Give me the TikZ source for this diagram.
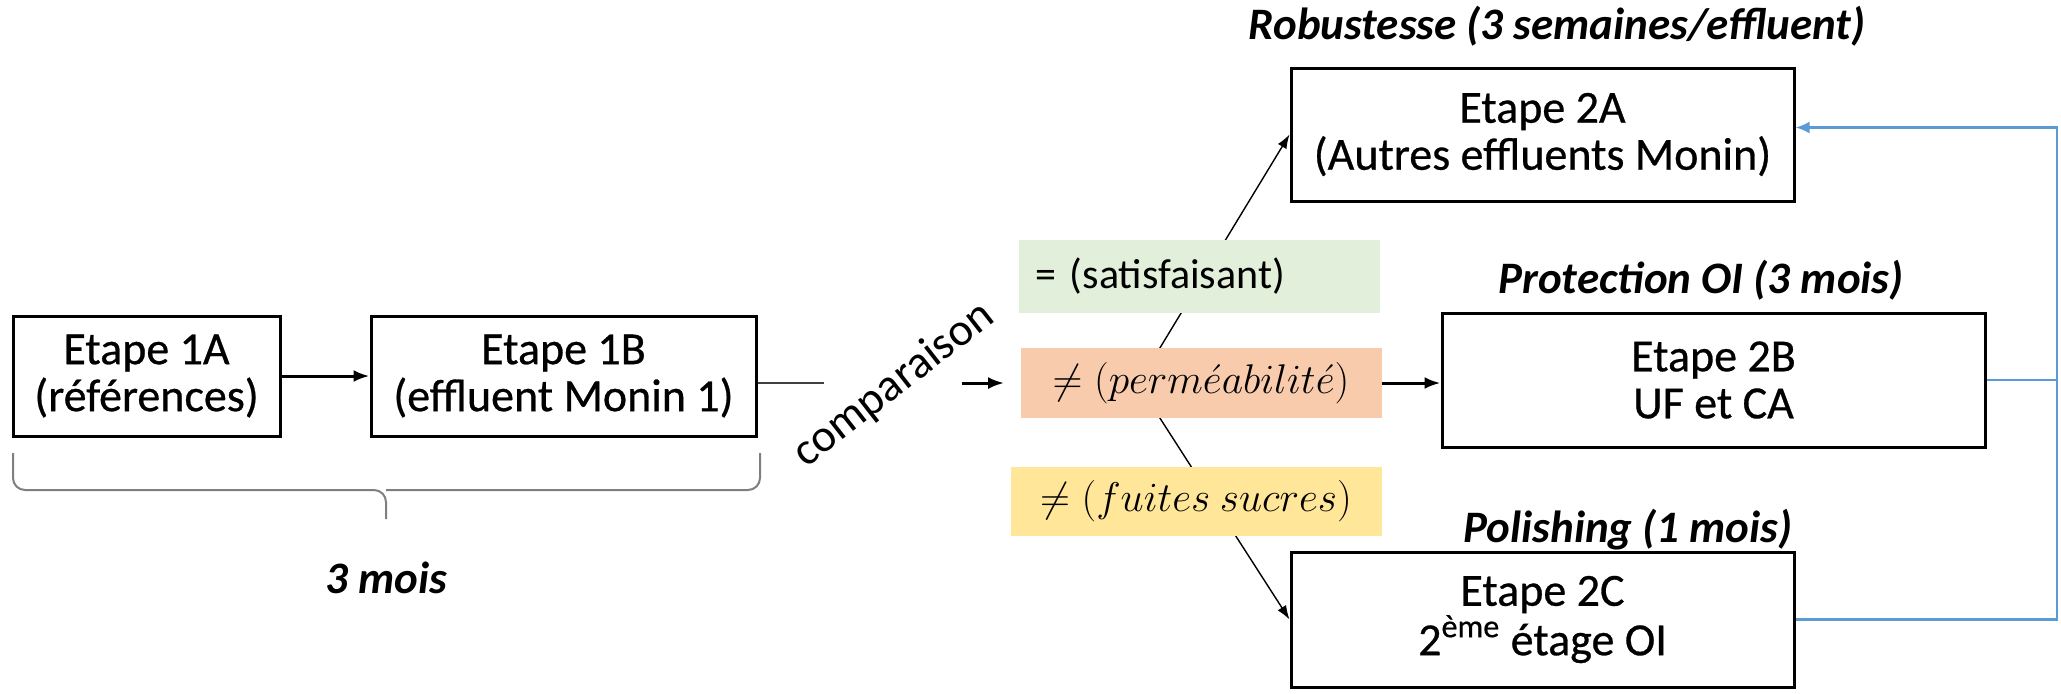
\documentclass[tikz,border=0pt]{standalone}
\usepackage{fontspec}
\setmainfont{Carlito}
\newfontfamily\boxfont[FakeBold=0.6]{Carlito}
\usetikzlibrary{arrows.meta,calc}
\definecolor{gfill}{HTML}{E2EFDA}
\definecolor{ofill}{HTML}{F8CBAD}
\definecolor{yfill}{HTML}{FFE699}
\definecolor{bline}{HTML}{5B9BD5}
\definecolor{bracegray}{HTML}{7F7F7F}
\begin{document}
\begin{tikzpicture}[x=0.5pt,y=-0.5pt,
  stepbox/.style={draw=black, line width=1.5pt, fill=white, align=center, font=\boxfont\fontsize{23}{23.5}\selectfont, inner sep=0pt},
  cond/.style={inner sep=0pt, align=center, font=\fontsize{21.5}{23}\selectfont},
  lab/.style={font=\fontsize{22.5}{24}\selectfont\bfseries\itshape},
  arr/.style={line width=1.5pt, -{Latex[length=8pt,width=6pt]}},
  thinarr/.style={line width=0.7pt, -{Latex[length=7pt,width=5pt]}},
  blueln/.style={draw=bline, line width=1.2pt}
]
\useasboundingbox (0,0) rectangle (2061,693);

% step boxes
\node[stepbox, minimum width=133.5pt, minimum height=60pt] (n1A) at (146.5,376) {Etape 1A\\(références)};
\node[stepbox, minimum width=192.5pt, minimum height=60pt] (n1B) at (563.5,376) {Etape 1B\\(effluent Monin 1)};
\node[stepbox, minimum width=251.5pt, minimum height=66.5pt] (n2A) at (1542.5,134.5) {Etape 2A\\(Autres effluents Monin)};
\node[stepbox, minimum width=271.5pt, minimum height=67pt] (n2B) at (1713.5,380) {Etape 2B\\UF et CA};
\node[stepbox, minimum width=251.5pt, minimum height=67.5pt] (n2C) at (1542.5,619.5) {Etape 2C\\2\textsuperscript{ème} étage OI};

% labels above boxes
\node[lab] (lA) at (1557,26) {Robustesse (3 semaines/effluent)};
\node[lab] (lB) at (1701,280) {Protection OI (3 mois)};
\node[lab] (lC) at (1628,530) {Polishing (1 mois)};

% diagonal branches (behind condition boxes)
\coordinate (split) at (1138,384);
\draw[thinarr] (split) -- (n2A.west);
\draw[thinarr] (split) -- (n2C.west);

% condition boxes
\node[cond, fill=gfill, minimum height=36.5pt, text width=164.5pt, inner xsep=8pt, align=left, font=\fontsize{21}{23}\selectfont] (cg) at (1199.5,276.5) {= (satisfaisant)};
\node[cond, fill=ofill, minimum width=180.5pt, minimum height=35pt] (co) at (1201,383) {$\neq (perm\acute{e}abilit\acute{e})$};
\node[cond, fill=yfill, minimum width=185.5pt, minimum height=34.5pt] (cy) at (1196,501.5) {$\neq (fuites\ sucres)$};

% main flow
\draw[arr] (n1A) -- (n1B);
\coordinate (c1) at (824,383);
\coordinate (c2) at (962,383);
\draw[line width=1pt, draw=black!75] (n1B.east |- c1) -- (c1);
\draw[arr] (c2) -- ([xshift=-8pt]co.west);
\node[rotate=38, font=\fontsize{23}{24}\selectfont] (cmp) at (894,385) {comparaison};
\draw[arr] (co.east) -- (n2B.west |- co.east);

% blue feedback
\coordinate (bR) at (2057,0);
\coordinate (aIn) at ([yshift=3.5pt]n2A.east);
\draw[blueln, -{Latex[length=7pt,width=6pt]}] (n2C.east) -- (n2C.east -| bR) -- (aIn -| bR) -- (aIn);
\draw[blueln] (n2B.east) -- (n2B.east -| bR);

% brace
\draw[bracegray, line width=1pt, rounded corners=6pt] (13,453) |- (386,490) -- (386,519);
\draw[bracegray, line width=1pt, rounded corners=6pt] (760,453) |- (386,490);
\node[lab] (l3) at (386,578) {3 mois};
\end{tikzpicture}
\end{document}
